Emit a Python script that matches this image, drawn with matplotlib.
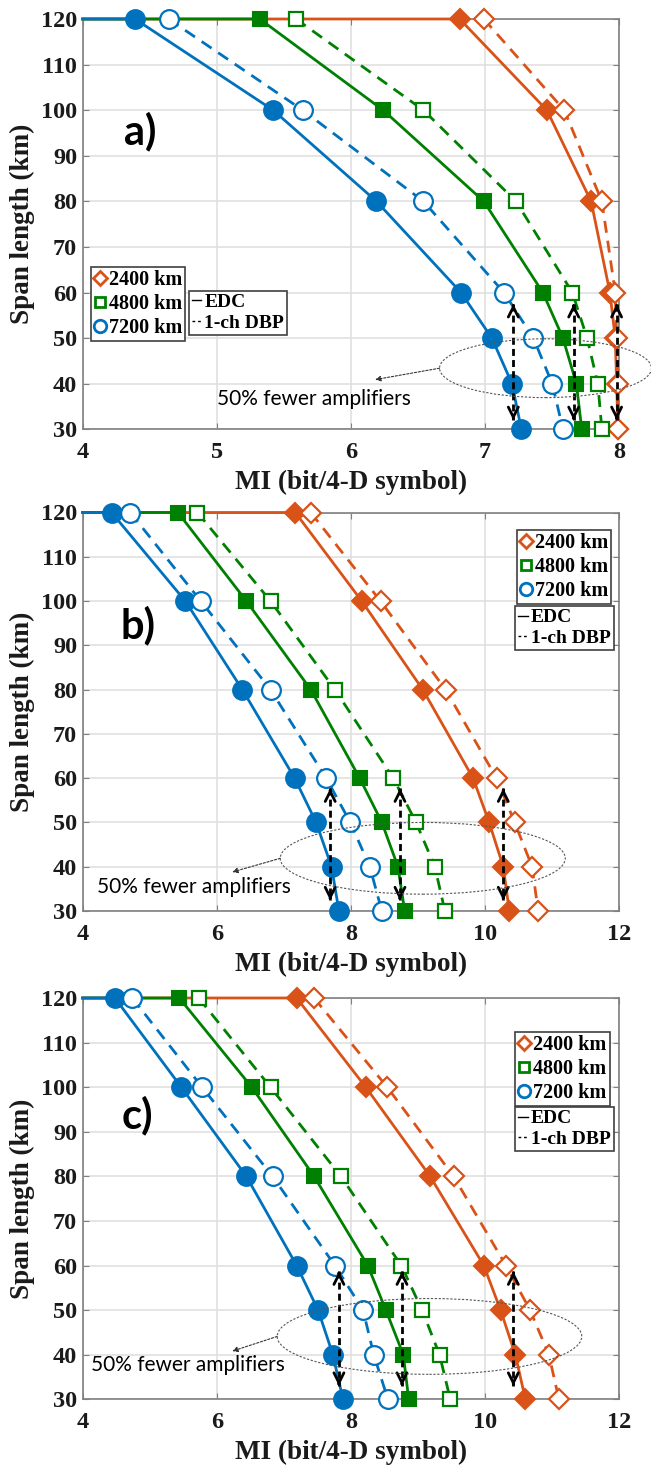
import matplotlib
matplotlib.use("Agg")
import matplotlib.pyplot as plt
from matplotlib.patches import Ellipse
from matplotlib.lines import Line2D

# span lengths (km), same for every curve
span = [120, 100, 80, 60, 50, 40, 30]

# panel a) MI (bit/4-D symbol)
a_2400_edc = [6.81, 7.46, 7.79, 7.93, 7.97, 7.98, 7.99]
a_2400_dbp = [6.99, 7.59, 7.87, 7.97, 7.98, 7.99, 7.99]
a_4800_edc = [5.32, 6.24, 6.99, 7.43, 7.58, 7.68, 7.72]
a_4800_dbp = [5.59, 6.54, 7.23, 7.65, 7.76, 7.84, 7.87]
a_7200_edc = [4.39, 5.42, 6.19, 6.82, 7.05, 7.20, 7.27]
a_7200_dbp = [4.64, 5.64, 6.54, 7.14, 7.36, 7.50, 7.58]

# panel b)
b_2400_edc = [7.17, 8.16, 9.07, 9.82, 10.06, 10.27, 10.36]
b_2400_dbp = [7.40, 8.44, 9.41, 10.17, 10.44, 10.70, 10.79]
b_4800_edc = [5.42, 6.44, 7.40, 8.13, 8.46, 8.70, 8.80]
b_4800_dbp = [5.71, 6.80, 7.76, 8.63, 8.97, 9.25, 9.40]
b_7200_edc = [4.43, 5.53, 6.38, 7.16, 7.48, 7.71, 7.82]
b_7200_dbp = [4.71, 5.76, 6.80, 7.63, 7.99, 8.28, 8.46]

# panel c)
c_2400_edc = [7.19, 8.22, 9.18, 9.98, 10.23, 10.45, 10.60]
c_2400_dbp = [7.45, 8.54, 9.53, 10.31, 10.67, 10.95, 11.10]
c_4800_edc = [5.44, 6.52, 7.45, 8.25, 8.52, 8.78, 8.86]
c_4800_dbp = [5.73, 6.80, 7.85, 8.75, 9.06, 9.32, 9.48]
c_7200_edc = [4.48, 5.47, 6.44, 7.19, 7.51, 7.73, 7.88]
c_7200_dbp = [4.74, 5.78, 6.83, 7.76, 8.18, 8.34, 8.55]

# "50% fewer amplifiers" double arrows (MI position of each arrow)
a_arrow_x = [7.21, 7.66, 7.98]
b_arrow_x = [7.69, 8.73, 10.27]
c_arrow_x = [7.82, 8.76, 10.42]

distances = ["2400 km", "4800 km", "7200 km"]
schemes = ["EDC", "1-ch DBP"]
note = "50% fewer amplifiers"

col_2400 = "#D95319"
col_4800 = "#008000"
col_7200 = "#0072BD"

serif = "Liberation Serif"

W, H = 651, 1465
fig = plt.figure(figsize=(W / 100, H / 100), dpi=100)

left = 82.7 / W
width = (619.3 - 82.7) / W
ax_a = fig.add_axes([left, (H - 429.3) / H, width, 410.3 / H])
ax_b = fig.add_axes([left, (H - 911) / H, width, 398.5 / H])
ax_c = fig.add_axes([left, (H - 1399.3) / H, width, 401.3 / H])


def draw_panel(ax, curves, xmax, xticks, tag, tag_xy, leg1_xy, leg2_xy,
               ell, note_xy, note_tip, arrow_x, arrow_y):
    xmin = xticks[0]
    for color, marker, ms, edc, dbp in curves:
        ax.plot([xmin] + edc, [span[0]] + span, color=color, lw=2, zorder=3,
                clip_on=False)
        ax.plot(dbp, span, color=color, lw=2, ls=(0, (4.3, 2.9)), zorder=3,
                clip_on=False)
        ax.plot(edc, span, ls="none", marker=marker, ms=ms, mfc=color,
                mec=color, mew=1.5, zorder=4, clip_on=False)
        ax.plot(dbp, span, ls="none", marker=marker, ms=ms, mfc="white",
                mec=color, mew=1.6, zorder=4, clip_on=False)

    ax.set_xlim(xmin, xmax)
    ax.set_ylim(30, 120)
    ax.set_xticks(xticks)
    ax.set_yticks(range(30, 121, 10))
    ax.grid(True, color="#e0e0e0", lw=1.2)
    ax.set_axisbelow(True)
    for s in ax.spines.values():
        s.set_color("#808080")
        s.set_linewidth(1.2)
    ax.tick_params(direction="in", length=4, top=True, right=True,
                   color="#808080", labelcolor="#1a1a1a")
    ax.tick_params(axis="x", pad=9)
    ax.tick_params(axis="y", pad=4)
    for lab in ax.get_xticklabels() + ax.get_yticklabels():
        lab.set_fontfamily(serif)
        lab.set_fontweight("bold")
        lab.set_fontsize(17.5)
    ax.set_xlabel("MI (bit/4-D symbol)", family=serif, weight="bold",
                  fontsize=19.5, labelpad=5, color="#1a1a1a")
    ax.set_ylabel("Span length (km)", family=serif, weight="bold",
                  fontsize=19.5, labelpad=4, color="#1a1a1a")

    ax.text(tag_xy[0], tag_xy[1], tag, family="Lato", weight="bold",
            fontsize=30, ha="center", va="center")

    # legends
    h1 = [Line2D([], [], ls="none", marker=m, ms=s, mfc="white", mec=c, mew=2)
          for c, m, s in [(col_2400, "D", 7.5), (col_4800, "s", 7), (col_7200, "o", 9)]]
    leg1 = ax.legend(h1, distances, loc="upper left", bbox_to_anchor=leg1_xy,
                     bbox_transform=ax.transData,
                     prop=dict(family=serif, weight="bold", size=14.5),
                     handlelength=0.6, handletextpad=0.15, borderpad=0.15,
                     labelspacing=0.2, borderaxespad=0, fancybox=False,
                     edgecolor="#404040", framealpha=1)
    leg1.get_frame().set_linewidth(1.2)
    leg1.set_zorder(7)
    ax.add_artist(leg1)
    h2 = [Line2D([], [], color="k", lw=1),
          Line2D([], [], color="k", lw=1, ls=(0, (2, 2)))]
    leg2 = ax.legend(h2, schemes, loc="upper left", bbox_to_anchor=leg2_xy,
                     bbox_transform=ax.transData,
                     prop=dict(family=serif, weight="bold", size=14),
                     handlelength=0.5, handletextpad=0.15, borderpad=0.15,
                     labelspacing=0.15, borderaxespad=0, fancybox=False,
                     edgecolor="#404040", framealpha=1)
    leg2.get_frame().set_linewidth(1.2)
    leg2.set_zorder(7)

    # dashed double arrows
    for x in arrow_x:
        ax.plot([x, x], arrow_y, color="k", lw=2, ls=(0, (2.5, 1.5)), zorder=5)
        ax.annotate("", xy=(x, arrow_y[1]), xytext=(x, arrow_y[1] + 0.5),
                    arrowprops=dict(arrowstyle="->", color="k", lw=2,
                                    mutation_scale=18, shrinkA=0, shrinkB=0),
                    zorder=5)
        ax.annotate("", xy=(x, arrow_y[0]), xytext=(x, arrow_y[0] - 0.5),
                    arrowprops=dict(arrowstyle="->", color="k", lw=2,
                                    mutation_scale=18, shrinkA=0, shrinkB=0),
                    zorder=5)

    cx, cy, w, h = ell
    ax.add_patch(Ellipse((cx, cy), w, h, fill=False, ec="#555555", lw=0.8,
                         ls=(0, (2, 1.5)), clip_on=False, zorder=5))
    ax.annotate("", xy=note_tip, xytext=(cx - w / 2, cy),
                arrowprops=dict(arrowstyle="-|>", color="#333333", lw=0.8,
                                ls=(0, (2, 1.5)), mutation_scale=8,
                                shrinkA=0, shrinkB=0))
    ax.text(note_xy[0], note_xy[1], note, family="Lato", fontsize=15,
            ha="left", va="center", zorder=6)


draw_panel(ax_a,
           [(col_2400, "D", 10.5, a_2400_edc, a_2400_dbp),
            (col_4800, "s", 10.5, a_4800_edc, a_4800_dbp),
            (col_7200, "o", 13.5, a_7200_edc, a_7200_dbp)],
           8, [4, 5, 6, 7, 8], "a)", (4.43, 95.3), (4.06, 65.7), (4.79, 60.4),
           (7.45, 43.4, 1.58, 12.9), (5.0, 36.7), (6.18, 40.9),
           a_arrow_x, [57.5, 32])

draw_panel(ax_b,
           [(col_2400, "D", 10.5, b_2400_edc, b_2400_dbp),
            (col_4800, "s", 10.5, b_4800_edc, b_4800_dbp),
            (col_7200, "o", 13.5, b_7200_edc, b_7200_dbp)],
           12, [4, 6, 8, 10, 12], "b)", (4.82, 94.6), (10.47, 116.1), (10.45, 98.9),
           (9.07, 41.9, 4.25, 16.2), (4.22, 35.4), (6.23, 38.8),
           b_arrow_x, [57.7, 32.4])

draw_panel(ax_c,
           [(col_2400, "D", 10.5, c_2400_edc, c_2400_dbp),
            (col_4800, "s", 10.5, c_4800_edc, c_4800_dbp),
            (col_7200, "o", 13.5, c_7200_edc, c_7200_dbp)],
           12, [4, 6, 8, 10, 12], "c)", (4.82, 93.6), (10.45, 112.4), (10.45, 95.6),
           (9.17, 44.1, 4.54, 17.0), (4.12, 37.6), (6.23, 40.8),
           c_arrow_x, [58.7, 33])

fig.savefig("out.png", dpi=100)
